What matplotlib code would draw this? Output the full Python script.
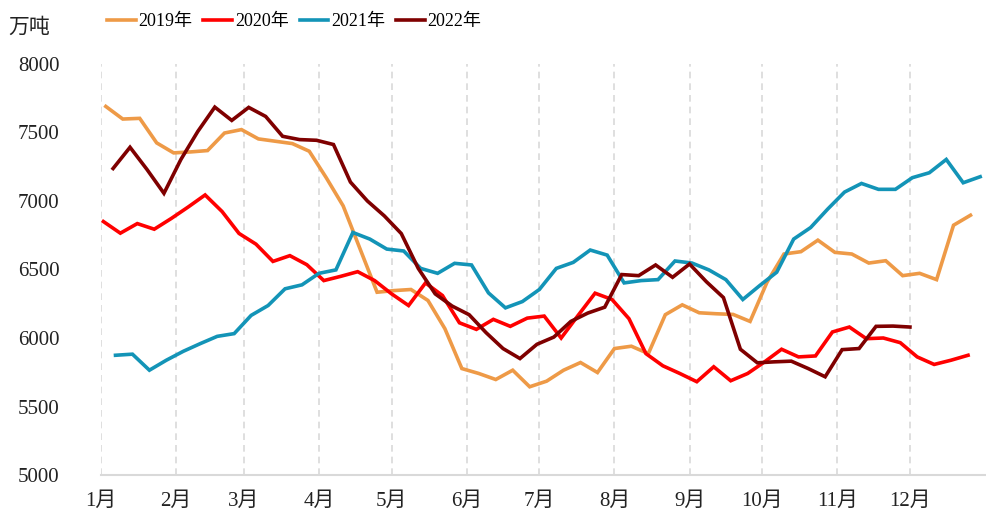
import pandas as pd
import matplotlib.pyplot as plt

plt.rcParams['font.family'] = ['Liberation Serif', 'Noto Sans CJK SC']

# 周度数据（万吨），每个年份第一周的日期
start_2019 = '2019-01-03'
start_2020 = '2020-01-02'
start_2021 = '2021-01-07'
start_2022 = '2022-01-06'

y2019 = [7690, 7598, 7603, 7424, 7351, 7358, 7368, 7496, 7521, 7453,
         7436, 7419, 7363, 7170, 6964, 6649, 6334, 6346, 6354, 6274,
         6068, 5777, 5741, 5697, 5765, 5644, 5685, 5765, 5821, 5748,
         5923, 5940, 5886, 6170, 6242, 6184, 6177, 6172, 6121, 6407,
         6613, 6630, 6714, 6625, 6613, 6547, 6564, 6455, 6472, 6426,
         6823, 6896]

y2020 = [6850, 6765, 6835, 6794, 6872, 6956, 7044, 6923, 6763, 6685,
         6559, 6601, 6535, 6419, 6450, 6484, 6419, 6322, 6237, 6402,
         6310, 6111, 6063, 6136, 6085, 6145, 6160, 6000, 6165, 6327,
         6281, 6141, 5886, 5797, 5741, 5681, 5790, 5688, 5741, 5826,
         5918, 5862, 5869, 6044, 6080, 5995, 6000, 5966, 5862, 5807,
         5838, 5874]

y2021 = [5874, 5882, 5765, 5838, 5903, 5959, 6012, 6032, 6165, 6237,
         6359, 6388, 6472, 6497, 6770, 6722, 6649, 6635, 6508, 6472,
         6545, 6533, 6329, 6220, 6266, 6354, 6508, 6552, 6642, 6605,
         6402, 6419, 6426, 6562, 6547, 6497, 6426, 6281, 6383, 6480,
         6722, 6806, 6940, 7065, 7128, 7085, 7085, 7170, 7206, 7303,
         7133, 7177]

y2022 = [7237, 7392, 7230, 7056, 7303, 7508, 7685, 7588, 7683, 7617,
         7472, 7448, 7443, 7412, 7138, 7000, 6891, 6762, 6508, 6322,
         6233, 6170, 6039, 5923, 5850, 5954, 6007, 6121, 6182, 6225,
         6463, 6455, 6533, 6443, 6540, 6410, 6295, 5918, 5819, 5826,
         5831, 5777, 5717, 5915, 5923, 6085, 6087, 6080]

months = ['1月', '2月', '3月', '4月', '5月', '6月',
          '7月', '8月', '9月', '10月', '11月', '12月']

series = [
    ('2019年', start_2019, y2019, '#EE9A47'),
    ('2020年', start_2020, y2020, '#FF0000'),
    ('2021年', start_2021, y2021, '#1394B7'),
    ('2022年', start_2022, y2022, '#7F0000'),
]

fig = plt.figure(figsize=(9.86, 5.2), dpi=100)
ax = fig.add_axes([0.1024, 0.0865, 0.8966, 0.7905])

for name, start, vals, color in series:
    dates = pd.date_range(start, periods=len(vals), freq='7D')
    x = dates.dayofyear - 1
    ax.plot(x, vals, color=color, lw=2.6, label=name, solid_joinstyle='miter')

# 月份起点（按平年天数）
month_starts = pd.date_range('2022-01-01', periods=12, freq='MS').dayofyear - 1
for d in month_starts:
    ax.axvline(d, color='#D9D9D9', lw=1.2, ls=(0, (4, 3)), zorder=0)

ax.set_xlim(0, 365)
ax.set_ylim(5000, 8000)
ax.set_yticks(range(5000, 8001, 500))
ax.set_xticks(month_starts)
ax.set_xticklabels(months)
ax.tick_params(axis='both', length=0, labelsize=15, colors='#222222')
ax.tick_params(axis='y', pad=30)
ax.tick_params(axis='x', pad=12)

for s in ['top', 'right', 'left']:
    ax.spines[s].set_visible(False)
ax.spines['bottom'].set_color('#D9D9D9')
ax.spines['bottom'].set_linewidth(1.5)

fig.text(0.008, 0.946, '万吨', fontsize=15, color='#222222', va='center')
fig.legend(loc='center left', bbox_to_anchor=(0.1085, 0.958), ncol=4,
           frameon=False, fontsize=13, handlelength=1.6, handletextpad=0.15,
           columnspacing=0.6, borderpad=0, borderaxespad=0)

fig.savefig('out.png', dpi=100)
